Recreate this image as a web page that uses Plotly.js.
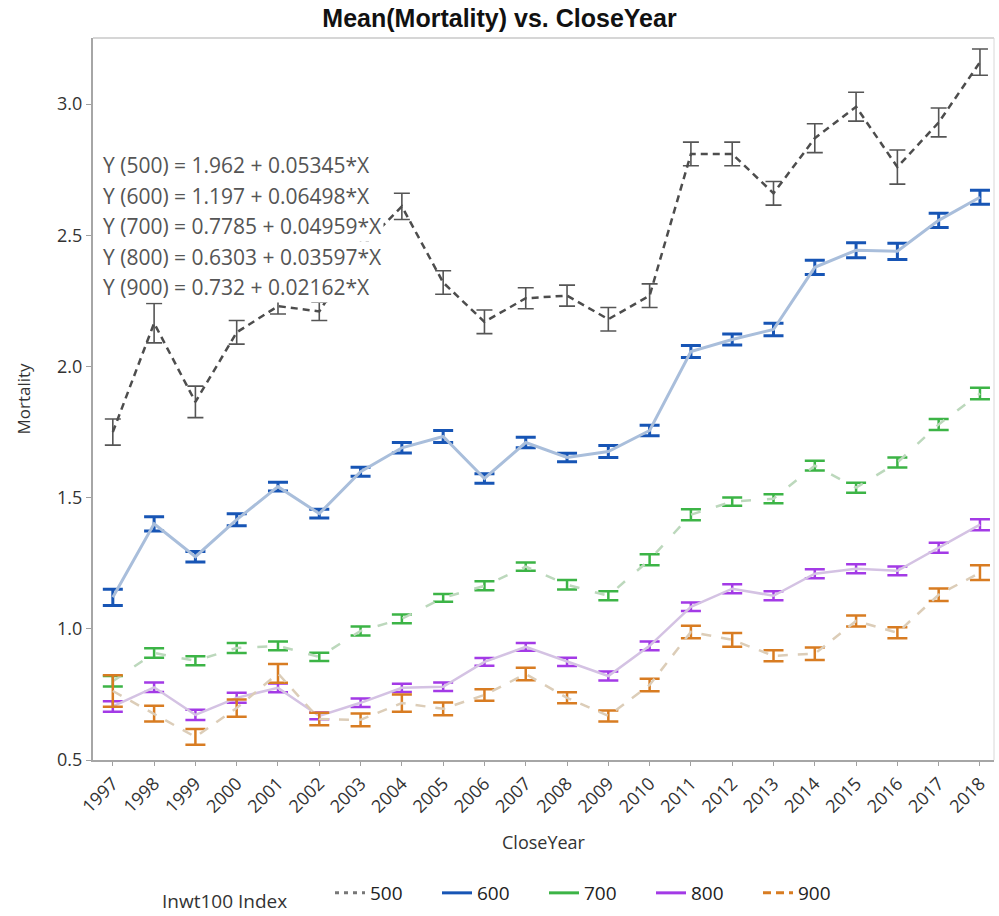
<!DOCTYPE html>
<html>
<head>
<meta charset="utf-8">
<script src="https://cdn.plot.ly/plotly-3.0.1.min.js"></script>
<style>html,body{margin:0;padding:0;background:#fff;}#chart{width:999px;height:916px;}</style>
</head>
<body>
<div id="chart"></div>
<script>
const years = [1997,1998,1999,2000,2001,2002,2003,2004,2005,2006,2007,2008,2009,2010,2011,2012,2013,2014,2015,2016,2017,2018];
const seriesNames = ["500","600","700","800","900"];
const mean500 = [1.75,2.165,1.865,2.13,2.23,2.21,2.45,2.61,2.32,2.17,2.26,2.27,2.18,2.27,2.81,2.81,2.66,2.87,2.99,2.76,2.93,3.16];
const err500  = [0.05,0.075,0.06,0.045,0.03,0.035,0.05,0.05,0.045,0.045,0.04,0.04,0.045,0.045,0.045,0.045,0.045,0.055,0.055,0.065,0.055,0.05];
const mean600 = [1.12,1.40,1.275,1.416,1.542,1.439,1.599,1.69,1.733,1.573,1.71,1.653,1.676,1.756,2.057,2.103,2.141,2.378,2.443,2.439,2.557,2.645];
const err600  = [0.031,0.027,0.02,0.023,0.017,0.017,0.017,0.02,0.023,0.018,0.02,0.016,0.023,0.02,0.023,0.021,0.024,0.027,0.029,0.031,0.027,0.027];
const mean700 = [0.80,0.908,0.878,0.927,0.935,0.893,0.992,1.038,1.118,1.164,1.237,1.168,1.126,1.263,1.435,1.485,1.496,1.622,1.538,1.634,1.779,1.897];
const err700  = [0.02,0.018,0.017,0.019,0.017,0.016,0.017,0.017,0.015,0.017,0.016,0.018,0.017,0.021,0.021,0.016,0.017,0.019,0.019,0.019,0.021,0.022];
const mean800 = [0.704,0.777,0.672,0.737,0.775,0.668,0.718,0.775,0.779,0.874,0.931,0.874,0.82,0.935,1.084,1.153,1.126,1.21,1.229,1.221,1.309,1.397];
const err800  = [0.02,0.018,0.02,0.019,0.017,0.013,0.016,0.016,0.016,0.015,0.015,0.016,0.017,0.017,0.016,0.017,0.017,0.017,0.017,0.017,0.019,0.021];
const mean900 = [0.763,0.677,0.588,0.698,0.83,0.656,0.653,0.717,0.695,0.748,0.828,0.737,0.668,0.786,0.988,0.958,0.897,0.905,1.03,0.985,1.13,1.214];
const err900  = [0.06,0.03,0.03,0.033,0.036,0.024,0.024,0.033,0.024,0.022,0.024,0.021,0.021,0.024,0.024,0.026,0.021,0.024,0.021,0.021,0.024,0.028];
const fitLines = [
  "Y (500) = 1.962 + 0.05345*X",
  "Y (600) = 1.197 + 0.06498*X",
  "Y (700) = 0.7785 + 0.04959*X",
  "Y (800) = 0.6303 + 0.03597*X",
  "Y (900) = 0.732 + 0.02162*X"
];
const yTicks = [0.5,1.0,1.5,2.0,2.5,3.0];

const FONT = "Open Sans, Noto Sans, sans-serif";
const styles = [
  {line:"#4d4d4d", dash:"7px,5px", lw:2.5, err:"#555555", et:1.6, ew:8, leg:"#777777", legDash:"4px,5px"},
  {line:"#a9bedb", dash:"solid", lw:3, err:"#1755b5", et:3, ew:10, leg:"#1755b5", legDash:"solid"},
  {line:"#bcd8bc", dash:"10px,16px", lw:2.5, err:"#3cb446", et:2.5, ew:10, leg:"#3cb446", legDash:"solid"},
  {line:"#d4c2e3", dash:"solid", lw:2.5, err:"#a33ae6", et:2.5, ew:10, leg:"#a33ae6", legDash:"solid"},
  {line:"#dccdb8", dash:"10px,10px", lw:2.5, err:"#d87c22", et:2.5, ew:10, leg:"#d87c22", legDash:"8px,5px"}
];
const means = [mean500,mean600,mean700,mean800,mean900];
const errs = [err500,err600,err700,err800,err900];

const traces = [];
for (let i=0;i<5;i++){
  const s = styles[i];
  traces.push({
    x: years, y: means[i], type:"scatter", mode:"lines", name: seriesNames[i], showlegend:false,
    line:{color:s.line, width:s.lw, dash:s.dash},
    error_y:{type:"data", array:errs[i], visible:true, color:s.err, thickness:s.et, width:s.ew},
    hoverinfo:"x+y"
  });
}
for (let i=0;i<5;i++){
  const s = styles[i];
  traces.push({
    x:[null], y:[null], type:"scatter", mode:"lines", name: seriesNames[i], showlegend:true,
    line:{color:s.leg, width:3, dash:s.legDash}
  });
}

// plot area: x 93..994, y 38..760
const H = 722;
const fitAnnotations = fitLines.map((t, k) => ({
  text: t, xref:"paper", yref:"paper", x: 8/901, y: (760 - (165 + k*30.6))/H,
  xanchor:"left", yanchor:"middle", align:"left", showarrow:false,
  bgcolor:"#ffffff", borderpad:1, font:{size:21, color:"#555555", family:FONT}
}));

const layout = {
  width:999, height:916,
  margin:{l:93, r:5, t:38, b:156},
  paper_bgcolor:"#ffffff", plot_bgcolor:"#ffffff",
  font:{family:FONT, color:"#333333", size:16},
  title:{text:"<b>Mean(Mortality) vs. CloseYear</b>", font:{family:"Liberation Sans Narrow, Arial Narrow, sans-serif", size:25, color:"#111111"}, x:0.5, xref:"container", xanchor:"center", y:0.98, yref:"container", yanchor:"middle"},
  xaxis:{
    range:[1996.52, 2018.34], tickvals:years, ticktext:years.map(String), tickangle:-45, automargin:false,
    ticks:"outside", ticklen:4, tickcolor:"#a0a0a0",
    showline:true, linecolor:"#a6a6a6", linewidth:2, mirror:false, showgrid:false, zeroline:false,
    tickfont:{size:18, color:"#333"},
    title:{text:"CloseYear", font:{size:18, color:"#333"}, standoff:20}
  },
  yaxis:{
    range:[0.5, 3.252], tickvals:yTicks, ticktext:yTicks.map(v=>v.toFixed(1)), automargin:false,
    ticks:"outside", ticklen:5, tickcolor:"#a0a0a0",
    showline:true, linecolor:"#a6a6a6", linewidth:2, showgrid:false, zeroline:false,
    tickfont:{size:18, color:"#333"},
    title:{text:"Mortality", font:{size:17, color:"#333"}, standoff:22}
  },
  shapes:[
    {type:"line", xref:"paper", yref:"paper", x0:0, x1:1, y0:1, y1:1, line:{color:"#c8c8c8", width:1.5}},
    {type:"line", xref:"paper", yref:"paper", x0:1, x1:1, y0:0, y1:1, line:{color:"#d8d8d8", width:1}}
  ],
  annotations: fitAnnotations.concat([
    {text:"Inwt100 Index", xref:"paper", yref:"paper", x:(160-93)/901, y:(760-901)/H, xanchor:"left", yanchor:"middle", showarrow:false,
     font:{size:19, color:"#333333", family:FONT}}
  ]),
  showlegend:true,
  legend:{orientation:"h", xref:"container", yref:"container", x:330/999, y:(916-874)/916, xanchor:"left", yanchor:"top",
    entrywidth:62, entrywidthmode:"pixels",
    font:{size:19, color:"#222"}, bgcolor:"rgba(0,0,0,0)", itemwidth:30}
};

Plotly.newPlot("chart", traces, layout, {displayModeBar:false, staticPlot:true});
</script>
</body>
</html>
